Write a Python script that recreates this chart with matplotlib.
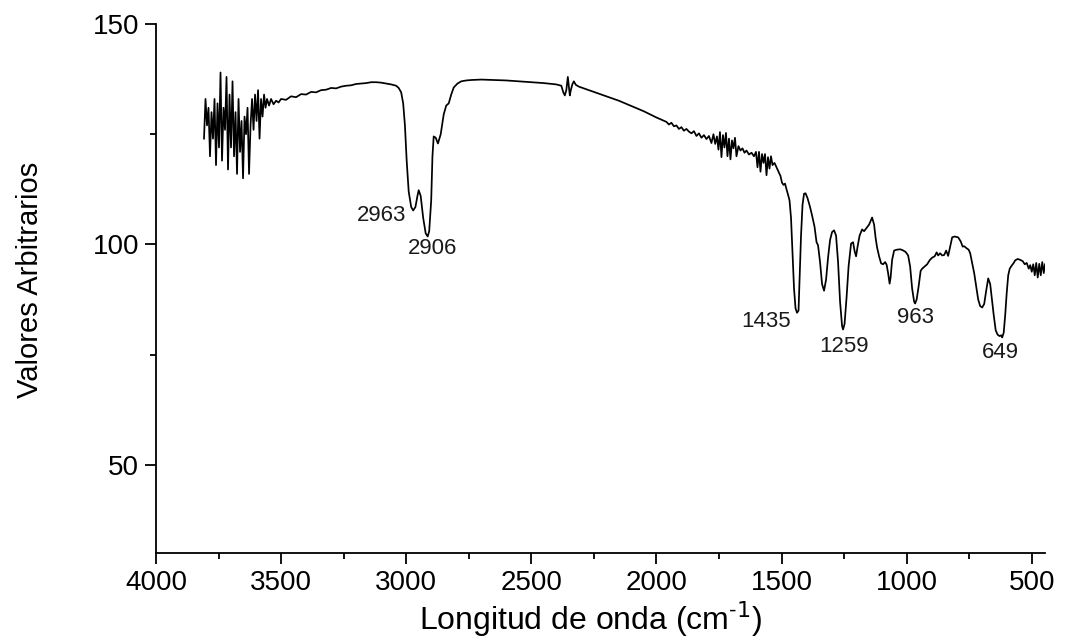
import matplotlib.pyplot as plt
from matplotlib.ticker import MultipleLocator

plt.rcParams['font.family'] = ['Liberation Sans', 'DejaVu Sans']

# wavenumber (cm-1) and intensity
wavenumber = [
    3808, 3802, 3796, 3790, 3784, 3778, 3772, 3766, 3760, 3754, 3748, 3742,
    3736, 3730, 3724, 3718, 3712, 3706, 3700, 3694, 3688, 3682, 3676, 3670,
    3664, 3658, 3652, 3646, 3640, 3634, 3628, 3622, 3616, 3610, 3604, 3598,
    3592, 3586, 3580, 3574, 3568, 3562, 3556, 3548, 3540, 3530, 3520, 3510,
    3500, 3480, 3460, 3440, 3420, 3400, 3380, 3360, 3340, 3320, 3300, 3280,
    3260, 3240, 3220, 3200, 3180, 3160, 3140, 3120, 3100, 3080, 3060, 3040,
    3030, 3020, 3012, 3005, 2998, 2990, 2980, 2972, 2963, 2955, 2950, 2942,
    2932, 2922, 2914, 2908, 2900, 2895, 2890, 2882, 2873, 2862, 2850, 2840,
    2830, 2820, 2810, 2795, 2780, 2760, 2740, 2700, 2650, 2600, 2550, 2500,
    2450, 2400, 2380, 2372, 2366, 2360, 2354, 2350, 2346, 2342, 2336, 2330,
    2322, 2310, 2280, 2250, 2200, 2150, 2100, 2050, 2000, 1960, 1950, 1940,
    1930, 1920, 1910, 1900, 1890, 1880, 1870, 1860, 1850, 1840, 1830, 1820,
    1810, 1800, 1790, 1780, 1772, 1765, 1758, 1752, 1746, 1740, 1734, 1728,
    1722, 1716, 1710, 1704, 1698, 1692, 1686, 1680, 1672, 1664, 1656, 1648,
    1640, 1630, 1620, 1610, 1602, 1596, 1590, 1584, 1578, 1572, 1566, 1560,
    1554, 1548, 1542, 1536, 1528, 1520, 1512, 1504, 1498, 1492, 1486, 1480,
    1474, 1468, 1462, 1456, 1450, 1444, 1438, 1432, 1428, 1422, 1416, 1410,
    1404, 1396, 1386, 1378, 1368, 1360, 1354, 1346, 1338, 1330, 1322, 1314,
    1306, 1298, 1290, 1282, 1274, 1266, 1258, 1254, 1248, 1240, 1232, 1222,
    1214, 1208, 1202, 1196, 1188, 1178, 1170, 1162, 1150, 1138, 1130, 1124,
    1118, 1110, 1102, 1094, 1086, 1080, 1074, 1068, 1064, 1058, 1050, 1040,
    1026, 1016, 1004, 994, 986, 978, 970, 966, 960, 952, 944, 938,
    928, 918, 908, 898, 888, 880, 874, 866, 858, 850, 842, 834,
    826, 818, 808, 794, 784, 776, 770, 762, 752, 746, 738, 730,
    722, 714, 706, 698, 690, 682, 674, 666, 660, 652, 644, 636,
    628, 622, 618, 612, 606, 600, 594, 588, 580, 572, 566, 556,
    546, 536, 528, 520, 512, 506, 500, 494, 488, 482, 476, 470,
    464, 458, 452, 447,
]
intensity = [
    124, 133, 127, 131, 120, 130, 124, 133, 118, 132, 122, 139,
    119, 131, 126, 138, 117, 134, 122, 137, 120, 130, 116, 133,
    121, 128, 115, 129, 125, 131, 116, 127, 133, 126, 134, 128,
    135, 124, 133, 129, 134, 131, 133, 131.5, 133, 131.8, 132.6, 132.2,
    133, 132.8, 133.6, 133.4, 134.1, 134, 134.6, 134.5, 135, 135.1, 135.5, 135.4,
    135.8, 136, 136.1, 136.4, 136.5, 136.6, 136.8, 136.8, 136.7, 136.5, 136.3, 136,
    135.5, 134.5, 132, 127, 119, 112, 108.5, 107.7, 108.5, 111, 112.3, 111,
    106, 102.5, 101.8, 103, 110, 120, 124.5, 124.2, 122.9, 125, 129.5, 131.5,
    132, 134, 135.6, 136.5, 137, 137.2, 137.3, 137.4, 137.3, 137.2, 137, 136.8,
    136.6, 136.3, 136, 134.5, 133.8, 135, 138, 136, 133.8, 135, 136.3, 137,
    136.2, 135.8, 135.2, 134.6, 133.6, 132.6, 131.4, 130.2, 128.8, 127.8, 127.2, 127.6,
    126.8, 127, 126.2, 126.6, 125.8, 126.2, 125.6, 125.2, 125.7, 124.6, 125.2, 124.2,
    124.8, 123.9, 124.6, 123, 125, 122.8, 124.5, 121.5, 125.5, 119.8, 124.8, 122,
    125.3, 120, 124, 119.3, 123.6, 121.8, 124.2, 120, 122.3, 121.3, 121.8, 120.8,
    121.3, 120.4, 120.8, 120, 121, 117.5, 121, 116.5, 120.5, 118.5, 120.5, 115.7,
    119.8, 117.2, 120, 118, 118.5, 117.5, 116.5, 115.5, 114, 113.5, 113.8, 112.5,
    111.3, 110, 106, 98, 90, 85.5, 84.5, 85, 92, 102, 109, 111.5,
    111.6, 110.5, 108.5, 106.6, 104, 100.5, 99.8, 96, 91, 89.5, 92, 97,
    101, 102.8, 103.2, 102, 96, 87, 81.5, 80.7, 82, 88, 95, 100.2,
    100.5, 98.5, 97.3, 99.5, 102, 103.4, 103, 103.6, 104.5, 106.1, 104.5, 101.5,
    99.3, 97.3, 95.7, 95.5, 96, 95.4, 93.5, 91.1, 92.5, 96.5, 98.6, 98.8,
    98.9, 98.7, 98.3, 97.5, 95, 90, 87, 86.6, 87.5, 90.5, 94, 94.5,
    95, 95.5, 96.4, 97, 97.3, 98.2, 97.5, 98, 97.5, 97.6, 98.6, 97.4,
    99.5, 101.6, 101.8, 101.6, 100.7, 99.5, 99.6, 99.2, 98.8, 98, 95.8, 93.5,
    90.5, 87.5, 86, 85.7, 86.5, 89.5, 92.3, 91, 88, 84, 80.5, 79.5,
    79.2, 79.4, 78.9, 80, 84, 89, 93, 94.5, 95.2, 95.8, 96.4, 96.7,
    96.5, 96.2, 95.5, 95.8, 94.5, 95.3, 93.8, 95.5, 93, 95.8, 92.5, 95.6,
    93, 96, 93.5, 95.5,
]

# peak labels: text, x, y of label centre
peak_labels = ['2963', '2906', '1435', '1259', '963', '649']
peak_x = [3100, 2893, 1562, 1250, 966, 627]
peak_y = [106.6, 99.1, 82.5, 76.8, 83.4, 75.5]

fig = plt.figure(figsize=(10.66, 6.44), dpi=100)
ax = fig.add_axes([0.1463, 0.1413, 0.834, 0.8214])

ax.plot(wavenumber, intensity, color='black', linewidth=1.25)

for lbl, px, py in zip(peak_labels, peak_x, peak_y):
    ax.text(px, py, lbl, ha='center', va='center', fontsize=16, color='#1a1a1a')

ax.set_xlim(4000, 447)
ax.set_ylim(30, 150)
ax.xaxis.set_major_locator(MultipleLocator(500))
ax.xaxis.set_minor_locator(MultipleLocator(250))
ax.yaxis.set_major_locator(MultipleLocator(50))
ax.yaxis.set_minor_locator(MultipleLocator(25))

for side in ['top', 'right']:
    ax.spines[side].set_visible(False)
for side in ['left', 'bottom']:
    ax.spines[side].set_linewidth(1.3)

ax.tick_params(which='major', direction='out', length=8, width=1.3, labelsize=20, pad=4)
ax.tick_params(which='minor', direction='out', length=4, width=1.3)

ax.set_xlabel('Longitud de onda (cm$^{\\mathregular{\u2010}1}$)', fontsize=23)
ax.set_ylabel('Valores Arbitrarios', fontsize=21)
ax.xaxis.set_label_coords(0.489, -0.087)
ax.yaxis.set_label_coords(-0.126, 0.516)

fig.savefig('out.png', dpi=100)
